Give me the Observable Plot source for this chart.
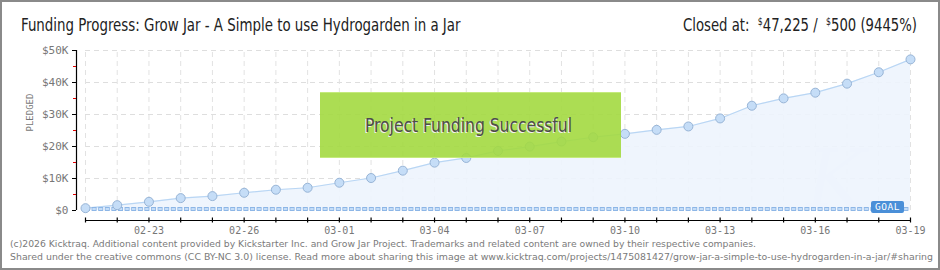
<!DOCTYPE html>
<html>
<head>
<meta charset="utf-8">
<script src="https://cdn.jsdelivr.net/npm/d3@7"></script>
<script src="https://cdn.jsdelivr.net/npm/@observablehq/plot@0.6"></script>
<style>
  html, body { margin: 0; padding: 0; background: #fff; }
  #page { position: relative; width: 940px; height: 270px; overflow: hidden; background: #fff; }
  #border { position: absolute; left: 0; top: 0; width: 940px; height: 270px; box-sizing: border-box; border: 2px solid #8a8a8a; pointer-events: none; z-index: 10; }
  .fit { position: absolute; white-space: nowrap; transform-origin: 0 0; }
  #title { left: 20px; top: 15px; font: 17px/20px "DejaVu Sans Condensed", "DejaVu Sans", sans-serif; color: #222; }
  #closed { top: 15px; font: 17px/20px "DejaVu Sans Condensed", "DejaVu Sans", sans-serif; color: #222; }
  #closed sup { font-size: 10px; vertical-align: 6px; line-height: 0; }
  #chart { position: absolute; left: 0; top: 38px; }
  #success { position: absolute; left: 320px; top: 92px; width: 301px; height: 66px; box-sizing: border-box;
    background: rgba(163, 217, 64, 0.9); border-top: 1px solid #c4ea7c; border-bottom: 1px solid #c4ea7c; z-index: 5; }
  #successText { font: 19px/20px "DejaVu Sans Condensed", "DejaVu Sans", sans-serif; color: #4d4d4d; text-shadow: -1px 1px 0 #f2f2f2; }
  #goal { position: absolute; left: 871px; top: 201px; width: 33px; height: 12px; background: #4a8fd8; border-radius: 2px;
    color: #fff; font: 9.5px/12px "DejaVu Sans Mono", monospace; text-align: center; letter-spacing: 0.5px; z-index: 6; }
  .foot { left: 10px; font: 9px/12px "DejaVu Sans", sans-serif; color: #7a7a7a; }
</style>
</head>
<body>
<div id="page">
  <div id="title" class="fit"></div>
  <div id="closed" class="fit"></div>
  <div id="chart"></div>
  <div id="success"><div id="successText" class="fit"></div></div>
  <div id="goal">GOAL</div>
  <div id="foot1" class="fit foot" style="top:238px"></div>
  <div id="foot2" class="fit foot" style="top:250.5px"></div>
  <div id="border"></div>
</div>
<script>
// ---- data ----
const titleText = "Funding Progress: Grow Jar - A Simple to use Hydrogarden in a Jar";
const pledgedTotal = 47225;
const goalAmount = 500;
const percentText = "9445%";
const dates = ["2015-02-21","2015-02-22","2015-02-23","2015-02-24","2015-02-25","2015-02-26","2015-02-27","2015-02-28",
  "2015-03-01","2015-03-02","2015-03-03","2015-03-04","2015-03-05","2015-03-06","2015-03-07","2015-03-08","2015-03-09",
  "2015-03-10","2015-03-11","2015-03-12","2015-03-13","2015-03-14","2015-03-15","2015-03-16","2015-03-17","2015-03-18","2015-03-19"];
const pledged = [730, 1670, 2720, 3870, 4500, 5540, 6490, 7110,
  8680, 10150, 12450, 14960, 16420, 18620, 19980, 21550, 22900,
  23950, 25200, 26260, 28770, 32740, 35040, 36820, 39640, 43200, 47225];
const xLabelDates = ["2015-02-23","2015-02-26","2015-03-01","2015-03-04","2015-03-07","2015-03-10","2015-03-13","2015-03-16","2015-03-19"];
const yMajorTicks = [0, 10000, 20000, 30000, 40000, 50000];
const yMinorTicks = [5000, 15000, 25000, 35000, 45000];
const yLabel = "PLEDGED";
const successText = "Project Funding Successful";
const footer1 = "(c)2026 Kicktraq. Additional content provided by Kickstarter Inc. and Grow Jar Project. Trademarks and related content are owned by their respective companies.";
const footer2 = "Shared under the creative commons (CC BY-NC 3.0) license. Read more about sharing this image at www.kicktraq.com/projects/1475081427/grow-jar-a-simple-to-use-hydrogarden-in-a-jar/#sharing";

const parse = d3.utcParse("%Y-%m-%d");
const data = dates.map((d, i) => ({date: parse(d), value: pledged[i]}));
const days = data.map(d => d.date);
const start = days[0], end = days[days.length - 1];
const labelDays = xLabelDates.map(parse);
const fmtUSD = d3.format(",");

const chart = Plot.plot({
  width: 940,
  height: 200,
  marginTop: 12,
  marginBottom: 18,
  marginLeft: 76,
  marginRight: 30,
  style: {background: "transparent", overflow: "visible"},
  x: {type: "utc", domain: [start, end], insetLeft: 9, label: null},
  y: {domain: [0, 50000], insetBottom: 10, label: null},
  marks: [
    // grid
    Plot.ruleY(yMajorTicks.slice(1), {x1: start, x2: end, stroke: "#dedede", strokeDasharray: "5,4"}),
    Plot.ruleX(days, {y1: 0, y2: 50000, stroke: "#e2e2e2", strokeDasharray: "5,4"}),
    // faint watermark
    Plot.text(["K"], {frameAnchor: "bottom-right", dx: -45, dy: -14, fontSize: 80, fontStyle: "italic",
      fontFamily: "DejaVu Serif, serif", fill: "#f3f6fa"}),
    // area and line
    Plot.areaY(data, {x: "date", y: "value", fill: "#edf4fd", fillOpacity: 0.9}),
    Plot.lineY(data, {x: "date", y: "value", stroke: "#b9d6f4", strokeWidth: 1.2}),
    // goal line
    Plot.ruleY([goalAmount], {x1: start, x2: end, stroke: "#8db6e6", strokeWidth: 4, strokeDasharray: "5,1.6"}),
    Plot.ruleY([goalAmount], {x1: start, x2: end, stroke: "#c4ddf8", strokeWidth: 2, strokeDasharray: "3.4,3.2", strokeDashoffset: -0.8}),
    // dots
    Plot.dot(data, {x: "date", y: "value", r: 4.5, fill: "#c5ddf7", stroke: "#97b4d6", strokeWidth: 1}),
    // y axis
    Plot.ruleX([start], {y1: 0, y2: 50000, dx: -9, stroke: "#000", strokeWidth: 1.2}),
    Plot.axisY({ticks: yMajorTicks, tickSize: 4, stroke: "#000", label: null,
      tickFormat: d => d === 0 ? "$0" : "$" + d / 1000 + "K",
      fill: "#777", fontSize: 11, fontFamily: "DejaVu Sans Mono, monospace", tickPadding: 4}),
    Plot.axisY({ticks: yMinorTicks, tickSize: 3, stroke: "#e00000", label: null, tickFormat: null, text: null}),
    Plot.text([yLabel], {frameAnchor: "left", dx: -46, dy: -4, rotate: -90, fill: "#777", fontSize: 9,
      fontFamily: "DejaVu Sans Mono, monospace", style: "letter-spacing:1.5px"}),
    // x axis
    Plot.ruleY([0], {x1: start, x2: end, dy: 10, stroke: "#000", strokeWidth: 1.2}),
    Plot.axisX({ticks: days, tickSize: 5, dy: -2.5, stroke: "#000", label: null, text: null, strokeWidth: 1.2}),
    Plot.axisX({ticks: labelDays, tickSize: 0, tickPadding: 6, label: null, tickFormat: d3.utcFormat("%m-%d"),
      fill: "#777", fontSize: 10, fontFamily: "DejaVu Sans Mono, monospace"})
  ]
});
document.getElementById("chart").appendChild(chart);

// texts
document.getElementById("title").textContent = titleText;
document.getElementById("closed").innerHTML = "Closed at:&nbsp; <sup>$</sup>" + fmtUSD(pledgedTotal) +
  " / &nbsp;<sup>$</sup>" + fmtUSD(goalAmount) + " (" + percentText + ")";
document.getElementById("successText").textContent = successText;
document.getElementById("foot1").textContent = footer1;
document.getElementById("foot2").textContent = footer2;

// fit text horizontally to the widths in the reference
function fit(id, left, width) {
  const el = document.getElementById(id);
  const w = el.getBoundingClientRect().width;
  el.style.left = left + "px";
  el.style.transform = "scaleX(" + (width / w) + ")";
}
fit("title", 20.5, 439.5);
fit("closed", 683, 234);
fit("foot1", 10, 746);
fit("foot2", 10, 923);
(function () {
  const el = document.getElementById("successText");
  const w = el.getBoundingClientRect().width;
  el.style.left = (365 - 320) + "px";
  el.style.top = "22px";
  el.style.transform = "scaleX(" + (207 / w) + ")";
})();
</script>
</body>
</html>
